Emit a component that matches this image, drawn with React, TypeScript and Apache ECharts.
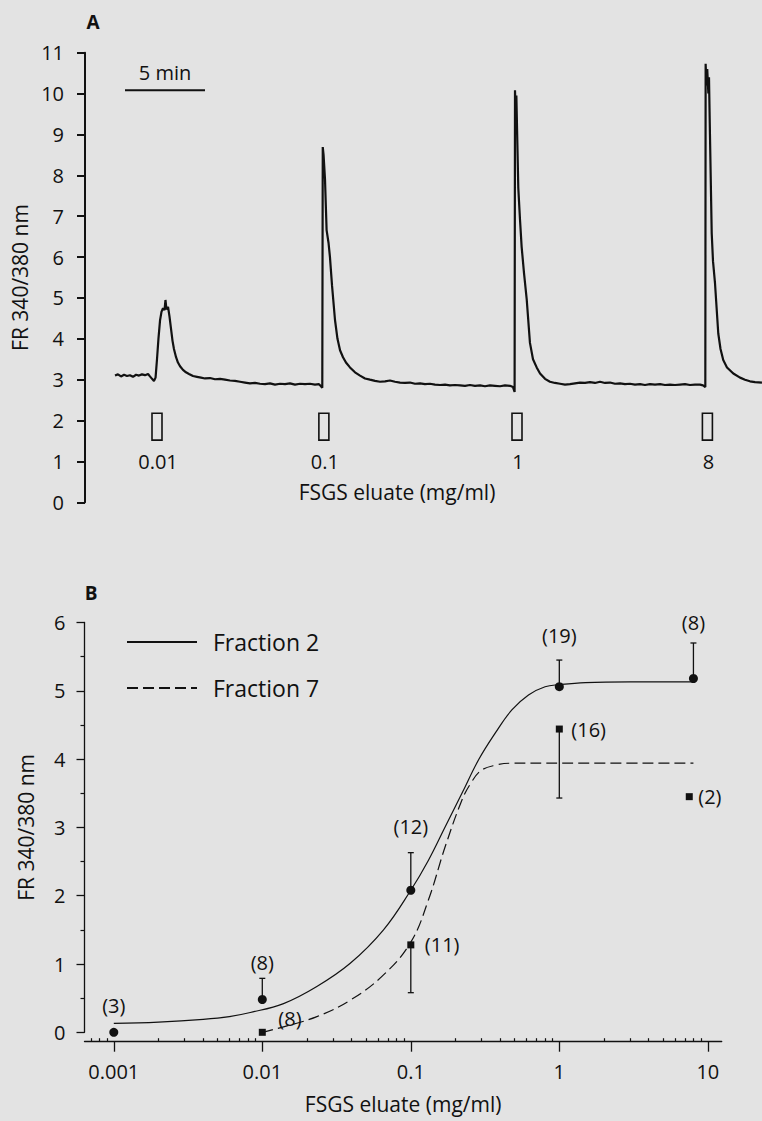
import React, { useEffect, useRef } from 'react';
import * as echarts from 'echarts';

// ---------- Panel A: calcium trace (time in minutes, FR 340/380) ----------
const trace: [number, number][] = [
  [1.875, 3.10], [2.06, 3.13], [2.25, 3.08], [2.44, 3.12], [2.625, 3.09], [2.81, 3.11], [3.0, 3.07],
  [3.19, 3.12], [3.375, 3.10], [3.56, 3.13], [3.75, 3.11], [3.94, 3.14], [4.06, 3.08], [4.19, 3.02],
  [4.31, 2.97], [4.41, 3.05], [4.5, 3.5], [4.59, 4.0], [4.69, 4.45], [4.78, 4.66], [4.875, 4.75],
  [4.97, 4.70], [5.03, 4.95], [5.09, 4.72], [5.19, 4.78], [5.28, 4.55], [5.375, 4.25], [5.47, 3.95],
  [5.56, 3.75], [5.69, 3.55], [5.81, 3.42], [5.94, 3.33], [6.125, 3.24], [6.31, 3.18], [6.5, 3.14],
  [6.75, 3.09], [7.0, 3.07], [7.25, 3.05], [7.5, 3.03], [7.81, 3.04], [8.125, 3.01], [8.44, 3.02],
  [8.75, 3.0], [9.06, 2.98], [9.375, 2.97], [9.69, 2.95], [10.0, 2.93], [10.31, 2.91], [10.625, 2.92],
  [10.94, 2.90], [11.25, 2.89], [11.56, 2.91], [11.875, 2.88], [12.19, 2.90], [12.5, 2.89], [12.81, 2.91],
  [13.125, 2.88], [13.44, 2.90], [13.75, 2.89], [14.06, 2.90], [14.375, 2.88], [14.625, 2.89], [14.75, 2.84],
  [14.83, 2.80], [14.86, 8.69], [14.91, 8.5], [15.0, 7.9], [15.1, 6.66], [15.22, 6.35], [15.31, 6.0],
  [15.44, 5.3], [15.625, 4.46], [15.78, 4.0], [15.94, 3.72], [16.125, 3.55], [16.31, 3.42], [16.56, 3.30],
  [16.875, 3.18], [17.19, 3.10], [17.5, 3.03], [17.81, 3.0], [18.125, 2.97], [18.44, 2.95], [18.75, 2.96],
  [19.06, 2.98], [19.375, 2.95], [19.69, 2.93], [20.0, 2.92], [20.31, 2.93], [20.625, 2.90], [20.94, 2.91],
  [21.25, 2.89], [21.56, 2.90], [21.875, 2.88], [22.19, 2.87], [22.5, 2.88], [22.81, 2.86], [23.125, 2.87],
  [23.44, 2.86], [23.75, 2.85], [24.06, 2.87], [24.375, 2.85], [24.69, 2.86], [25.0, 2.84], [25.31, 2.86],
  [25.625, 2.85], [25.94, 2.84], [26.25, 2.86], [26.56, 2.85], [26.75, 2.82], [26.85, 2.70], [26.875, 10.08],
  [26.91, 9.6], [26.96, 9.95], [27.0, 9.2], [27.08, 7.7], [27.19, 6.9], [27.29, 6.25], [27.44, 5.6],
  [27.61, 4.95], [27.81, 3.9], [28.0, 3.5], [28.23, 3.3], [28.44, 3.15], [28.75, 3.02], [29.06, 2.95],
  [29.375, 2.92], [29.69, 2.90], [30.0, 2.88], [30.31, 2.89], [30.625, 2.91], [30.94, 2.93], [31.25, 2.92],
  [31.56, 2.94], [31.875, 2.92], [32.19, 2.95], [32.5, 2.92], [32.81, 2.93], [33.125, 2.90], [33.44, 2.91],
  [33.75, 2.89], [34.06, 2.90], [34.375, 2.88], [34.69, 2.89], [35.0, 2.87], [35.31, 2.89], [35.625, 2.88],
  [35.94, 2.89], [36.25, 2.87], [36.56, 2.88], [36.875, 2.87], [37.19, 2.88], [37.5, 2.89], [37.81, 2.87],
  [38.125, 2.88], [38.44, 2.88], [38.625, 2.86], [38.77, 2.82], [38.79, 10.73], [38.84, 10.2], [38.89, 10.6],
  [38.96, 10.0], [39.0, 10.4], [39.06, 9.0], [39.17, 6.58], [39.25, 5.9], [39.375, 5.36], [39.58, 4.13],
  [39.72, 3.75], [39.89, 3.48], [40.125, 3.3], [40.52, 3.15], [40.94, 3.05], [41.25, 3.0], [41.56, 2.96],
  [41.875, 2.94], [42.31, 2.93],
];
const traceTimeMax = 42.3125;
const scaleBarMinutes = [2.5, 7.5];
const scaleBarLevel = 10.08;
const scaleBarText = '5 min';
const injectionTimes = [4.5, 14.93, 27.0, 38.9];
const injectionLabels = ['0.01', '0.1', '1', '8'];
const injectionBox = [1.52, 2.18];
const injectionLabelLevel = 1.0;
const yTicksA = { min: 0, max: 11, interval: 1 };

// ---------- Panel B: dose-response ----------
const f2Conc = [0.001, 0.01, 0.1, 1, 8];
const f2Mean = [0.0, 0.48, 2.08, 5.06, 5.18];
const f2ErrUp = [0, 0.31, 0.55, 0.39, 0.52];
const f2N = ['(3)', '(8)', '(12)', '(19)', '(8)'];

const f7Conc = [0.01, 0.1, 1, 7.5];
const f7Mean = [0.0, 1.28, 4.44, 3.45];
const f7ErrDown = [0, 0.70, 1.01, 0];
const f7N = ['(8)', '(11)', '(16)', '(2)'];

const fit2Conc = [0.001, 0.002, 0.004, 0.006, 0.0083, 0.0139, 0.0233, 0.0391, 0.0655, 0.1, 0.1315, 0.1705, 0.221, 0.286, 0.37, 0.479, 0.62, 0.802, 1.0, 1.5, 3, 8];
const fit2Val = [0.13, 0.15, 0.19, 0.23, 0.29, 0.42, 0.67, 1.01, 1.50, 2.08, 2.52, 3.01, 3.50, 3.99, 4.38, 4.72, 4.94, 5.06, 5.09, 5.12, 5.13, 5.13];
const fit7Conc = [0.01, 0.0139, 0.0233, 0.0391, 0.0655, 0.1, 0.1315, 0.1705, 0.221, 0.254, 0.296, 0.37, 0.479, 1, 8];
const fit7Val = [0.0, 0.08, 0.23, 0.47, 0.84, 1.32, 1.94, 2.72, 3.40, 3.65, 3.83, 3.91, 3.94, 3.94, 3.94];

const xMajorB = [0.001, 0.01, 0.1, 1, 10];
const xMinorB = [0.0007, 0.0008, 0.0009,
  0.002, 0.003, 0.004, 0.005, 0.006, 0.007, 0.008, 0.009,
  0.02, 0.03, 0.04, 0.05, 0.06, 0.07, 0.08, 0.09,
  0.2, 0.3, 0.4, 0.5, 0.6, 0.7, 0.8, 0.9,
  2, 3, 4, 5, 6, 7, 8, 9];
const xRangeB = [0.000635, 12.4];
const yTicksB = { min: 0, max: 6, interval: 1 };

// label placement (pixels)
const f2LabelGap = [27, 16, 26, 25, 20];
const f7LabelDx = [16, 14, 12, 9];
const f7LabelDy = [-14, 0, 0, 0];

const FONT = '"Open Sans", "Noto Sans", sans-serif';
const INK = '#111111';
const BG = '#e3e3e3';

export default function App() {
  const ref = useRef<HTMLDivElement>(null);
  useEffect(() => {
    if (!ref.current) return;
    const chart = echarts.init(ref.current, undefined, { renderer: 'svg' });

    const errorBars = (dir: number) => (params: any, api: any) => {
      const x = api.value(0), y = api.value(1), e = api.value(2);
      if (!e) return { type: 'group', children: [] };
      const p0 = api.coord([x, y]);
      const p1 = api.coord([x, y + dir * e]);
      return {
        type: 'group',
        children: [
          { type: 'line', shape: { x1: p0[0], y1: p0[1], x2: p1[0], y2: p1[1] }, style: { stroke: INK, lineWidth: 1.3 } },
          { type: 'line', shape: { x1: p1[0] - 3, y1: p1[1], x2: p1[0] + 3, y2: p1[1] }, style: { stroke: INK, lineWidth: 1.3 } },
        ],
      };
    };

    const option: any = {
      animation: false,
      backgroundColor: BG,
      textStyle: { fontFamily: FONT, color: INK },
      grid: [
        { left: 85, right: 0, top: 52.7, bottom: 618.7 },
        { left: 84.5, right: 40.3, top: 622.5, bottom: 88.7 },
      ],
      legend: {
        data: ['Fraction 2', 'Fraction 7'],
        orient: 'vertical',
        left: 126,
        top: 629,
        padding: 0,
        itemWidth: 70,
        itemHeight: 14,
        itemGap: 20,
        selectedMode: false,
        itemStyle: { opacity: 0 },
        textStyle: { fontFamily: FONT, fontSize: 23, color: INK, lineHeight: 26, padding: [0, 0, 0, 11] },
      },
      xAxis: [
        { gridIndex: 0, type: 'value', min: 0, max: traceTimeMax, show: false },
        {
          gridIndex: 1, type: 'log', position: 'bottom', min: xRangeB[0], max: xRangeB[1], offset: 9.4,
          axisLine: { onZero: false, lineStyle: { color: INK, width: 1.3 } },
          axisTick: { customValues: xMajorB, length: 10, lineStyle: { color: INK, width: 1.3 } },
          axisLabel: { customValues: xMajorB, formatter: (v: number) => String(v), margin: 20, fontSize: 20, color: INK, fontFamily: FONT },
          splitLine: { show: false },
          name: 'FSGS eluate (mg/ml)', nameLocation: 'middle', nameGap: 52,
          nameTextStyle: { fontSize: 21, color: INK, fontFamily: FONT },
        },
        {
          gridIndex: 1, type: 'log', position: 'bottom', min: xRangeB[0], max: xRangeB[1], offset: 9.4,
          axisLine: { show: false, onZero: false },
          axisTick: { customValues: xMinorB, inside: true, length: 3.5, lineStyle: { color: INK, width: 1.2 } },
          axisLabel: { show: false },
          splitLine: { show: false },
        },
      ],
      yAxis: [
        {
          gridIndex: 0, type: 'value', ...yTicksA,
          axisLine: { show: true, onZero: false, lineStyle: { color: INK, width: 2 } },
          axisTick: { show: true, length: 8, lineStyle: { color: INK, width: 2 } },
          axisLabel: { margin: 21, fontSize: 20, color: INK, fontFamily: FONT },
          splitLine: { show: false },
          name: 'FR 340/380 nm', nameLocation: 'middle', nameGap: 48,
          nameTextStyle: { fontSize: 21, color: INK, fontFamily: FONT },
        },
        {
          gridIndex: 1, type: 'value', ...yTicksB,
          axisLine: { show: true, onZero: false, lineStyle: { color: INK, width: 1.3 } },
          axisTick: { show: true, length: 8, lineStyle: { color: INK, width: 1.3 } },
          minorTick: { show: true, splitNumber: 2, length: 4, lineStyle: { color: INK, width: 1.2 } },
          axisLabel: { margin: 19, fontSize: 20, color: INK, fontFamily: FONT },
          splitLine: { show: false },
          name: 'FR 340/380 nm', nameLocation: 'middle', nameGap: 48,
          nameTextStyle: { fontSize: 21, color: INK, fontFamily: FONT },
        },
      ],
      graphic: [
        { type: 'text', x: 93, y: 22, style: { text: 'A', font: `bold 19px ${FONT}`, fill: INK, textAlign: 'center', textVerticalAlign: 'middle' } },
        { type: 'text', x: 91, y: 593, style: { text: 'B', font: `bold 19px ${FONT}`, fill: INK, textAlign: 'center', textVerticalAlign: 'middle' } },
        { type: 'text', x: 397, y: 492, style: { text: 'FSGS eluate (mg/ml)', font: `21px ${FONT}`, fill: INK, textAlign: 'center', textVerticalAlign: 'middle' } },
      ],
      series: [
        {
          type: 'line', name: 'trace', xAxisIndex: 0, yAxisIndex: 0, data: trace,
          symbol: 'none', lineStyle: { color: INK, width: 2.2 }, silent: true,
        },
        {
          type: 'custom', xAxisIndex: 0, yAxisIndex: 0, silent: true,
          data: [[scaleBarMinutes[0], scaleBarMinutes[1], scaleBarLevel]],
          encode: { x: [0, 1], y: 2 },
          renderItem: (params: any, api: any) => {
            const a = api.coord([api.value(0), api.value(2)]);
            const b = api.coord([api.value(1), api.value(2)]);
            return {
              type: 'group',
              children: [
                { type: 'line', shape: { x1: a[0], y1: a[1], x2: b[0], y2: b[1] }, style: { stroke: INK, lineWidth: 2 } },
                { type: 'text', x: (a[0] + b[0]) / 2, y: a[1] - 18, style: { text: scaleBarText, font: `20px ${FONT}`, fill: INK, textAlign: 'center', textVerticalAlign: 'middle' } },
              ],
            };
          },
        },
        {
          type: 'custom', xAxisIndex: 0, yAxisIndex: 0, silent: true,
          data: injectionTimes.map((t, i) => [t, injectionBox[1], i]),
          renderItem: (params: any, api: any) => {
            const t = api.value(0);
            const i = api.value(2);
            const top = api.coord([t, injectionBox[1]]);
            const bot = api.coord([t, injectionBox[0]]);
            const lab = api.coord([t, injectionLabelLevel]);
            return {
              type: 'group',
              children: [
                { type: 'rect', shape: { x: top[0] - 5, y: top[1], width: 10, height: bot[1] - top[1] }, style: { fill: 'none', stroke: INK, lineWidth: 1.6 } },
                { type: 'text', x: lab[0] + 1, y: lab[1], style: { text: injectionLabels[i], font: `20px ${FONT}`, fill: INK, textAlign: 'center', textVerticalAlign: 'middle' } },
              ],
            };
          },
        },
        {
          type: 'line', name: 'Fraction 2', xAxisIndex: 1, yAxisIndex: 1,
          data: fit2Conc.map((c, i) => [c, fit2Val[i]]),
          symbol: 'none', smooth: 0.4,
          lineStyle: { color: INK, width: 1.2 }, itemStyle: { color: INK }, silent: true,
        },
        {
          type: 'line', name: 'Fraction 7', xAxisIndex: 1, yAxisIndex: 1,
          data: fit7Conc.map((c, i) => [c, fit7Val[i]]),
          symbol: 'none', smooth: 0.4,
          lineStyle: { color: INK, width: 1.2, type: [11, 5] }, itemStyle: { color: INK }, silent: true,
        },
        {
          type: 'custom', xAxisIndex: 1, yAxisIndex: 1, silent: true,
          data: f2Conc.map((c, i) => [c, f2Mean[i], f2ErrUp[i]]),
          renderItem: errorBars(1),
        },
        {
          type: 'custom', xAxisIndex: 1, yAxisIndex: 1, silent: true,
          data: f7Conc.map((c, i) => [c, f7Mean[i], f7ErrDown[i]]),
          renderItem: errorBars(-1),
        },
        {
          type: 'scatter', xAxisIndex: 1, yAxisIndex: 1, symbol: 'circle', symbolSize: 9,
          data: f2Conc.map((c, i) => [c, f2Mean[i]]), itemStyle: { color: INK, opacity: 1 }, silent: true,
        },
        {
          type: 'scatter', xAxisIndex: 1, yAxisIndex: 1, symbol: 'rect', symbolSize: 7,
          data: f7Conc.map((c, i) => [c, f7Mean[i]]), itemStyle: { color: INK, opacity: 1 }, silent: true,
        },
        {
          type: 'custom', xAxisIndex: 1, yAxisIndex: 1, silent: true,
          data: f2Conc.map((c, i) => [c, f2Mean[i] + f2ErrUp[i], i]),
          renderItem: (params: any, api: any) => {
            const i = api.value(2);
            const p = api.coord([api.value(0), api.value(1)]);
            return { type: 'text', x: p[0], y: p[1] - f2LabelGap[i], style: { text: f2N[i], font: `20px ${FONT}`, fill: INK, textAlign: 'center', textVerticalAlign: 'middle' } };
          },
        },
        {
          type: 'custom', xAxisIndex: 1, yAxisIndex: 1, silent: true,
          data: f7Conc.map((c, i) => [c, f7Mean[i], i]),
          renderItem: (params: any, api: any) => {
            const i = api.value(2);
            const p = api.coord([api.value(0), api.value(1)]);
            return { type: 'text', x: p[0] + f7LabelDx[i], y: p[1] + f7LabelDy[i], style: { text: f7N[i], font: `20px ${FONT}`, fill: INK, textAlign: 'left', textVerticalAlign: 'middle' } };
          },
        },
      ],
    };
    chart.setOption(option);
    return () => chart.dispose();
  }, []);
  return <div ref={ref} style={{ position: 'absolute', left: 0, top: 0, width: 762, height: 1121 }} />;
}
